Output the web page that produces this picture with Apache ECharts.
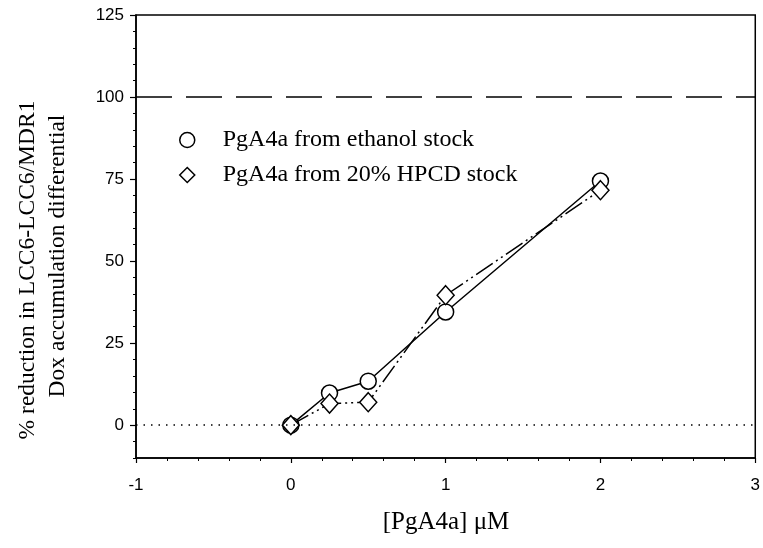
<!DOCTYPE html>
<html>
<head>
<meta charset="utf-8">
<script src="https://cdn.jsdelivr.net/npm/echarts@6/dist/echarts.min.js"></script>
<style>html,body{margin:0;padding:0;background:#fff}#c{width:763px;height:548px}</style>
</head>
<body>
<div id="c"></div>
<script>
var xValues = [0, 0.25, 0.5, 1, 2];
var ethanolValues = [0, 9.8, 13.4, 34.5, 74.4];
var hpcdValues = [0, 6.6, 7.0, 39.6, 71.6];
var seriesNames = ['PgA4a from ethanol stock', 'PgA4a from 20% HPCD stock'];
var yMajorTicks = [0, 25, 50, 75, 100, 125];
var refLineValue = 100;
var zeroLineValue = 0;
var xTitle = '[PgA4a] \u03bcM';
var yTitleLines = ['% reduction in LCC6-LCC6/MDR1', 'Dox accumulation differential'];

function pairs(xs, ys) { return xs.map(function (x, i) { return [x, ys[i]]; }); }

var chart = echarts.init(document.getElementById('c'), null, { renderer: 'canvas' });
var serif = 'Liberation Serif';
var sans = 'Liberation Sans';
var option = {
  animation: false,
  backgroundColor: '#fff',
  grid: { left: 136, right: 4, top: 15, bottom: 90, show: true, borderColor: '#000', borderWidth: 1.5, backgroundColor: 'transparent' },
  xAxis: {
    type: 'value', min: -1, max: 3, interval: 1,
    axisLine: { show: true, onZero: false, lineStyle: { color: '#000', width: 1.5 } },
    axisTick: { show: true, inside: false, length: 5, lineStyle: { color: '#000', width: 1.2 } },
    minorTick: { show: true, splitNumber: 5, length: 3, lineStyle: { color: '#000', width: 1 } },
    splitLine: { show: false },
    axisLabel: { color: '#000', fontFamily: sans, fontSize: 17, margin: 19 }
  },
  yAxis: [{
    type: 'value', min: -10, max: 125,
    axisLine: { show: true, onZero: false, lineStyle: { color: '#000', width: 1.5 } },
    axisTick: { show: true, inside: false, length: 6, customValues: yMajorTicks, lineStyle: { color: '#000', width: 1.2 } },
    splitLine: { show: false },
    axisLabel: { color: '#000', fontFamily: sans, fontSize: 17, margin: 12, customValues: yMajorTicks }
  }, {
    type: 'value', min: -10, max: 125, interval: 5, position: 'left',
    axisLine: { show: false, onZero: false },
    axisTick: { show: true, inside: false, length: 3, lineStyle: { color: '#000', width: 1 } },
    splitLine: { show: false },
    axisLabel: { show: false }
  }],
  legend: {
    orient: 'vertical', left: 174, top: 123, itemWidth: 15, itemHeight: 15, itemGap: 11,
    textStyle: { fontFamily: serif, fontSize: 24, color: '#000', lineHeight: 24, padding: [0, 0, 0, 23] },
    data: [
      { name: seriesNames[0], icon: 'circle', itemStyle: { color: '#fff', borderColor: '#000', borderWidth: 1.5 } },
      { name: seriesNames[1], icon: 'diamond', itemStyle: { color: '#fff', borderColor: '#000', borderWidth: 1.5 } }
    ]
  },
  graphic: [
    { type: 'text', x: 446, y: 522, style: { text: xTitle, font: '25px "Liberation Serif"', fill: '#000', textAlign: 'center', textVerticalAlign: 'middle' } },
    { type: 'text', rotation: Math.PI / 2, x: 28, y: 270, style: { text: yTitleLines[0], font: '23.5px "Liberation Serif"', fill: '#000', textAlign: 'center', textVerticalAlign: 'middle' } },
    { type: 'text', rotation: Math.PI / 2, x: 58, y: 256, style: { text: yTitleLines[1], font: '23.5px "Liberation Serif"', fill: '#000', textAlign: 'center', textVerticalAlign: 'middle' } }
  ],
  series: [{
    name: seriesNames[0], type: 'line', data: pairs(xValues, ethanolValues),
    symbol: 'circle', symbolSize: 16,
    itemStyle: { color: '#fff', borderColor: '#000', borderWidth: 1.5 },
    lineStyle: { color: '#000', width: 1.5, type: 'solid' },
    z: 3,
    markLine: {
      silent: true, symbol: 'none', label: { show: false },
      data: [
        { yAxis: refLineValue, lineStyle: { color: '#000', width: 1.5, type: [36, 14] } },
        { yAxis: zeroLineValue, lineStyle: { color: '#000', width: 1.5, type: [1.5, 6] } }
      ]
    }
  }, {
    name: seriesNames[1], type: 'line', data: pairs(xValues, hpcdValues),
    symbol: 'diamond', symbolSize: [17, 19],
    itemStyle: { color: '#fff', borderColor: '#000', borderWidth: 1.5 },
    lineStyle: { color: '#000', width: 1.5, type: [20, 4, 2, 4, 2, 4] },
    z: 4
  }]
};
chart.setOption(option);
</script>
</body>
</html>
